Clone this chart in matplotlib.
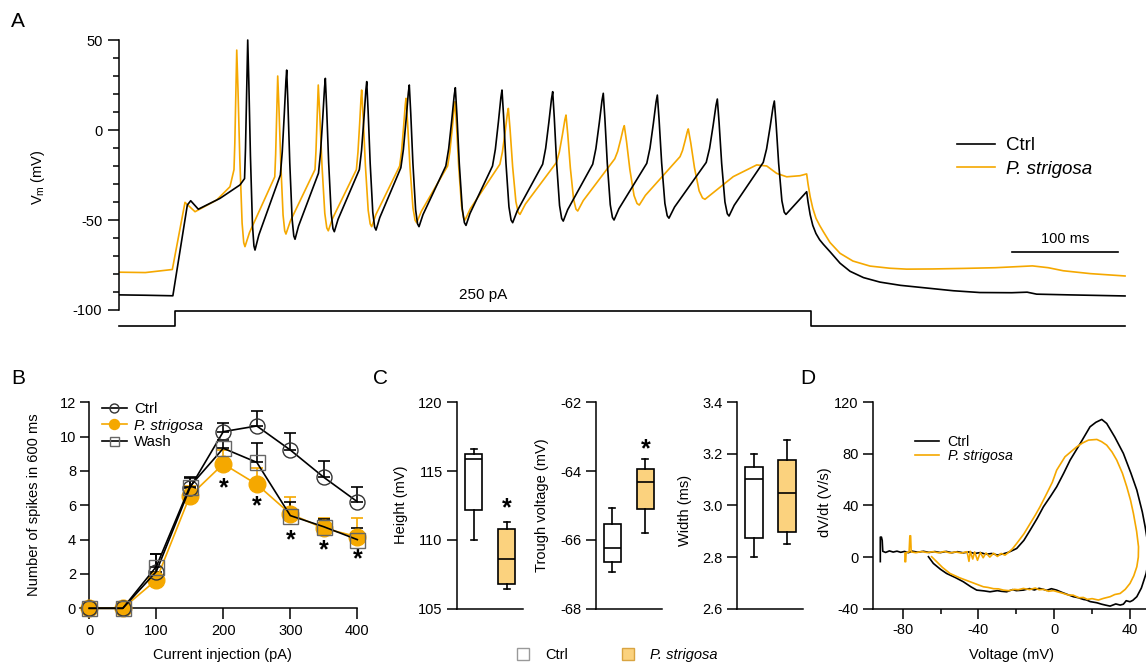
import numpy as np
import matplotlib
matplotlib.use("Agg")
import matplotlib.pyplot as plt
from matplotlib.patches import Patch

plt.rcParams["font.family"] = ["Liberation Sans", "DejaVu Sans"]
plt.rcParams["axes.unicode_minus"] = False
plt.rcParams["axes.linewidth"] = 1.1

ORANGE = "#F5A800"
BOXFILL = "#FBD27E"

# ---------------- panel A : voltage traces (ms, mV) ----------------
ctrl_onset = [(0, -91.6), (25, -91.8), (51, -92.1), (64.7, -41.7), (67.9, -39.3),
              (75.1, -44.0), (95.6, -38.0), (114.6, -30.5)]
ctrl_peak_t = [121.9, 158.8, 195.4, 234.6, 274.9, 318.5, 362.7, 410.7, 458.6, 509.8, 566.6, 620.6]
ctrl_peak_v = [50.0, 33.3, 28.7, 26.9, 25.0, 23.5, 22.2, 21.3, 20.4, 19.4, 17.2, 16.1]
ctrl_trough_t = [128.8, 166.7, 203.9, 243.4, 284.1, 328.6, 372.8, 420.7, 468.8, 520.8, 577.7, 631.6]
ctrl_trough_v = [-66.7, -60.7, -56.5, -55.6, -53.7, -53.0, -51.5, -50.6, -50.0, -49.0, -47.8, -46.9]
ctrl_thr_v = [-27, -25, -24, -22, -21, -20, -20, -19, -19, -18.5, -18, -18]
ctrl_up_ms = [3.0, 6.0, 6.5, 7.0, 8.0, 9.0, 9.0, 9.5, 10.0, 10.0, 10.5, 10.5]
ctrl_tail = [(651.2, -34.3), (652.5, -40), (654.5, -47), (657, -53), (660, -57.5), (663.5, -61),
             (667, -63.5), (673.3, -67.6), (682.8, -74), (692.3, -78.5), (705, -82),
             (720.6, -84.5), (740, -86.3), (768, -88), (790, -89.3), (815.3, -90.3),
             (845.4, -90.4), (860, -90.1), (869, -91.2), (900, -91.6), (952.7, -92.2)]

ps_onset = [(0, -79.0), (25, -79.2), (50.5, -77.5), (62.5, -40.2), (72, -45.4),
            (92.5, -38.9), (105.1, -31.5)]
ps_peak_t = [111.5, 150.3, 188.7, 229.8, 271.8, 318.2, 368.7, 423.3, 478.5, 539.1]
ps_peak_v = [44.4, 30.0, 25.0, 22.2, 17.6, 15.7, 12.0, 8.3, 2.4, 0.6]
ps_trough_t = [119.3, 158.1, 198.2, 239.3, 281.9, 327.7, 379.7, 434.4, 492.7, 554.9]
ps_trough_v = [-64.8, -57.8, -56.0, -53.7, -51.5, -50.0, -46.9, -45.0, -41.7, -38.5]
ps_thr_v = [-22, -26, -22, -22, -20, -20, -19, -18, -16, -14.8]
ps_up_ms = [2.6, 2.8, 3.1, 5.0, 6.0, 7.0, 8.0, 9.0, 9.0, 7.8]
ps_tail = [(566, -33.3), (581.7, -25.9), (594.4, -22.2), (603.9, -19.4), (613.4, -20),
           (622.8, -24.1), (632.3, -26), (644.9, -25.4), (651.2, -24.4), (652.5, -30),
           (654.5, -37), (657, -43.5), (660, -49), (663.5, -53), (667, -56.5), (673.3, -62.5),
           (682.8, -68.5), (695, -72.8), (711.2, -75.6), (730, -76.8), (745.9, -77.3),
           (770, -77.2), (799.5, -76.9), (830, -76.5), (854.8, -75.8), (865, -75.5),
           (880, -76.5), (894.2, -78.2), (920, -79.8), (952.7, -81.1)]

step_t = [0, 53, 53, 655, 655, 953]
step_pa = [0, 0, 250, 250, 0, 0]

# ---------------- panel B : spike counts ----------------
current = [0, 50, 100, 150, 200, 250, 300, 350, 400]
ctrl_n = [0, 0, 2.14, 6.99, 10.29, 10.62, 9.22, 7.63, 6.21]
ctrl_sem = [0, 0, 1.0, 0.6, 0.5, 0.9, 0.97, 0.97, 0.88]
ps_n = [0, 0, 1.65, 6.54, 8.41, 7.22, 5.5, 4.66, 4.17]
ps_sem = [0, 0, 0.3, 0.6, 0.8, 0.94, 0.97, 0.6, 1.07]
wash_n = [0, 0, 2.43, 7.09, 9.32, 8.5, 5.4, 4.75, 4.0]
wash_sem = [0, 0, 0.72, 0.55, 0.48, 1.11, 0.8, 0.45, 0.7]
star_x = [200, 250, 300, 350, 400]
star_y = [6.99, 5.92, 3.98, 3.36, 2.85]

# ---------------- panel C : box statistics (whislo, q1, med, q3, whishi) ----------------
height_ctrl = [110.0, 112.17, 115.86, 116.22, 116.6]
height_ps = [106.45, 106.82, 108.63, 110.79, 111.32]
trough_ctrl = [-66.92, -66.63, -66.23, -65.55, -65.08]
trough_ps = [-65.79, -65.11, -64.33, -63.94, -63.65]
width_ctrl = [2.80, 2.874, 3.101, 3.15, 3.20]
width_ps = [2.849, 2.899, 3.05, 3.176, 3.253]

# ---------------- panel D : phase plots (mV, V/s) ----------------
ctrl_phase = [(-91.8, -3.5), (-91.8, 15.5), (-91.2, 15.5), (-90.8, 13), (-90.5, 4.5), (-89, 3.6),
              (-87, 4.8), (-85, 3.9), (-83, 4.6), (-81, 3.7), (-79, 4.4), (-77, 3.4), (-75, 4.6),
              (-72, 3.8), (-69, 4.5), (-66, 3.6), (-63, 4.3), (-60, 3.5), (-57, 4.4), (-54, 3.4),
              (-51, 4.2), (-48, 3.3), (-45, 4.0), (-42, 2.8), (-39, 3.5), (-36, 2.2), (-33, 2.8),
              (-30, 1.6), (-27, 2.5), (-24, 3.8), (-21.5, 5.5), (-19.8, 6.7), (-16, 13),
              (-12.7, 20.9), (-9, 30), (-5.7, 39), (-2, 47), (1.3, 54.5), (5, 65), (8.4, 75.2),
              (13.7, 88), (18.9, 101), (22, 104.5), (25.1, 106.7), (27.7, 103.6), (32, 93),
              (36.5, 80.4), (40.5, 65), (43.6, 52), (46.5, 35), (48, 23.5), (50, 5), (49.5, -5),
              (48.5, -12.7), (46, -24), (43.6, -30.7), (41.5, -33.5), (40, -34.6), (38, -33.8),
              (36.5, -36.5), (34.8, -37.2), (32.5, -36.3), (29.5, -38), (27, -37.2), (25, -36.5),
              (22.5, -35.4), (19, -34.5), (17, -33.2), (15.4, -32.8), (12.5, -31.4), (10.1, -30.7),
              (7, -29), (4, -27.3), (1.3, -25.6), (-1.5, -24.5), (-4, -25.8), (-5.7, -25),
              (-8, -24.2), (-10.5, -25.5), (-13, -24.4), (-16.3, -25.6), (-20, -26), (-22, -25.2),
              (-25.1, -26.9), (-28, -26.5), (-30, -26), (-33.9, -26.9), (-37, -26.2),
              (-40.9, -25.6), (-44, -23), (-48, -19.1), (-52, -16), (-56.8, -12.7), (-60, -9.5),
              (-63.8, -4.9), (-66.4, 0.3)]
ps_phase = [(-78.8, 3.0), (-78.8, -3.6), (-78.4, -3.6), (-78.2, 3.5), (-76.6, 4.0), (-76.2, 16.5),
            (-75.8, 16.5), (-75.5, 4.0), (-73, 3.4), (-70, 4.3), (-67, 3.5), (-64, 4.2), (-61, 3.3),
            (-58, 4.4), (-55, 3.2), (-52, 4.0), (-49, 3.1), (-46, 4.2), (-45, -3.3), (-44.3, 4.5),
            (-43, -1.5), (-42, 4.0), (-40.5, -2.5), (-39, 3.6), (-37.5, -0.5), (-36, 3.2), (-34, 0),
            (-32, 3.0), (-30, 0.5), (-28, 2.8), (-26, 1.5), (-24, 3.8), (-22, 6.5), (-19.8, 10.6),
            (-16, 18), (-12.7, 26), (-10, 32.5), (-7.5, 39), (-3.9, 49.4), (-1, 58), (1.3, 67.4),
            (5.7, 77.8), (11.9, 85.5), (15, 88.5), (18.1, 90.7), (22.5, 91.2), (25, 89.5),
            (27.7, 86.8), (30.5, 81.5), (33, 75.2), (36, 65), (38.3, 54.5), (40.3, 44),
            (41.8, 33.9), (43.5, 20), (44.5, 8), (44.4, 0), (43.6, -7.5), (42, -14.5), (40, -20.4),
            (37.5, -25), (34.8, -28.2), (32, -29), (29.5, -30.7), (26, -32), (23.3, -33.3),
            (20, -32.2), (17.5, -32.8), (15.4, -31.3), (13, -31.5), (10, -29.5), (7.5, -29.4),
            (4.9, -28.2), (2, -27), (-0.5, -26), (-3, -26.5), (-5.7, -25), (-8, -25.3),
            (-10, -24), (-13, -25.2), (-16.3, -24.3), (-19, -25.3), (-21, -25), (-24, -26),
            (-26.8, -25.6), (-29.5, -24.6), (-32, -24.5), (-35, -23.5), (-37.4, -23), (-41, -21),
            (-44.4, -19.1), (-50, -16), (-55, -12.7), (-59, -8), (-62, -3.6), (-64.7, 0.3)]


def build_trace(onset, tp, vp, tt, vt, thr, up, tail):
    # join the read-off spike landmarks (threshold, peak, trough) into one polyline
    pts = list(onset)
    for i in range(len(tp)):
        r = vp[i] - thr[i]
        pts.append((tp[i] - up[i], thr[i]))
        pts.append((tp[i] - 0.7 * up[i], thr[i] + 0.22 * r))
        pts.append((tp[i] - 0.38 * up[i], thr[i] + 0.58 * r))
        pts.append((tp[i] - 0.12 * up[i], thr[i] + 0.9 * r))
        pts.append((tp[i], vp[i]))
        fall = tt[i] - tp[i]
        d = vp[i] - vt[i]
        pts.append((tp[i] + 0.15 * fall, vp[i] - 0.2 * d))
        pts.append((tp[i] + 0.37 * fall, vp[i] - 0.55 * d))
        pts.append((tp[i] + 0.65 * fall, vp[i] - 0.88 * d))
        pts.append((tp[i] + 0.85 * fall, vt[i] + 0.02 * d))
        pts.append((tt[i], vt[i]))
        if i + 1 < len(tp):
            nxt = tp[i + 1] - up[i + 1]
            pts.append((tt[i] + 0.15 * (nxt - tt[i]), vt[i] + 0.2 * (thr[i + 1] - vt[i])))
    pts += tail
    t, v = zip(*pts)
    return np.array(t), np.array(v)


fig = plt.figure(figsize=(11.46, 6.67), dpi=100)

# ---- A ----
axA = fig.add_axes([0.10384, 0.50285, 0.88220, 0.45067])
t1, v1 = build_trace(ctrl_onset, ctrl_peak_t, ctrl_peak_v, ctrl_trough_t, ctrl_trough_v,
                     ctrl_thr_v, ctrl_up_ms, ctrl_tail)
t2, v2 = build_trace(ps_onset, ps_peak_t, ps_peak_v, ps_trough_t, ps_trough_v,
                     ps_thr_v, ps_up_ms, ps_tail)
axA.plot(t1, v1, color="black", lw=1.2, label="Ctrl", zorder=3)
axA.plot(t2, v2, color=ORANGE, lw=1.2, label="P. strigosa", zorder=2)
step_y = -108.9 + np.array(step_pa) * (8.1 / 250)
axA.plot(step_t, step_y, color="black", lw=1.2, clip_on=False)
axA.text(344.7, -94, "250 pA", ha="center", va="baseline", fontsize=11)
axA.plot([846, 946], [-67.9, -67.9], color="black", lw=1.2)
axA.text(896, -62.6, "100 ms", ha="center", va="baseline", fontsize=10.5)
axA.set_xlim(0, 957.4)
axA.set_ylim(-112, 55)
for s in ["top", "right", "bottom"]:
    axA.spines[s].set_visible(False)
axA.spines["left"].set_bounds(-100, 50)
axA.set_xticks([])
axA.set_yticks([-100, -50, 0, 50])
axA.set_yticks(np.arange(-90, 50, 10), minor=True)
axA.tick_params(axis="y", which="major", length=8, width=1.1, labelsize=10.5, pad=4)
axA.tick_params(axis="y", which="minor", length=4.5, width=1.1)
axA.set_ylabel(r"$\mathregular{V_m}$ (mV)", fontsize=10.5, va="center")
axA.yaxis.set_label_coords(-0.0801, 0.5143)
legA = axA.legend(loc="center left", bbox_to_anchor=(957 / 1146, 1 - 157.5 / 667),
                  bbox_transform=fig.transFigure, frameon=False, fontsize=13.5,
                  handlelength=2.0, handletextpad=0.6, labelspacing=0.33,
                  borderpad=0, borderaxespad=0)
legA.get_texts()[1].set_fontstyle("italic")

# ---- B ----
axB = fig.add_axes([0.06974, 0.06226, 0.25373, 0.34751])
axB.errorbar(current, ps_n, yerr=[np.zeros(len(ps_sem)), ps_sem], fmt="none",
             ecolor=ORANGE, elinewidth=1.2, capsize=4.3, capthick=1.2, zorder=2)
axB.errorbar(current, wash_n, yerr=[np.zeros(len(wash_sem)), wash_sem], fmt="none",
             ecolor="black", elinewidth=1.2, capsize=4.3, capthick=1.2, zorder=3)
axB.errorbar(current, ctrl_n, yerr=[np.zeros(len(ctrl_sem)), ctrl_sem], fmt="none",
             ecolor="black", elinewidth=1.2, capsize=4.3, capthick=1.2, zorder=3)
lc, = axB.plot(current, ctrl_n, "-o", color="black", lw=1.2, ms=10.8, mfc="none",
               mec="#333333", mew=1.0, label="Ctrl", zorder=5, clip_on=False)
lp, = axB.plot(current, ps_n, "-o", color=ORANGE, lw=1.2, ms=12, mfc=ORANGE, mec=ORANGE,
               label="P. strigosa", zorder=4, clip_on=False)
lw_, = axB.plot(current, wash_n, "-s", color="black", lw=1.2, ms=10.8, mfc="none",
                mec="#666666", mew=1.0, label="Wash", zorder=5, clip_on=False)
for x, y in zip(star_x, star_y):
    axB.text(x, y, "*", ha="center", va="center", fontsize=18, fontweight="bold")
axB.set_xlim(-14, 420)
axB.set_ylim(-1, 12.5)
axB.spines["top"].set_visible(False)
axB.spines["right"].set_visible(False)
axB.spines["left"].set_position(("data", 0))
axB.spines["bottom"].set_position(("data", 0))
axB.spines["left"].set_bounds(0, 12)
axB.spines["bottom"].set_bounds(-14, 400)
axB.set_xticks([0, 100, 200, 300, 400])
axB.set_yticks([0, 2, 4, 6, 8, 10, 12])
axB.tick_params(axis="y", length=6.5, width=1.1, labelsize=10.5, pad=3)
axB.tick_params(axis="x", length=8, width=1.1, labelsize=10.5, pad=3)
axB.set_ylabel("Number of spikes in 600 ms", fontsize=10.5, va="center")
axB.yaxis.set_label_coords(-0.1579, 0.5198)
axB.set_xlabel("Current injection (pA)", fontsize=10.5, va="center")
axB.xaxis.set_label_coords(0.491, -0.1273)
legB = axB.legend(handles=[lc, lp, lw_], loc="center left",
                  bbox_to_anchor=(101.7 / 1146, 1 - 425.7 / 667), bbox_transform=fig.transFigure,
                  frameon=False, fontsize=10.8, markerscale=0.6, handlelength=1.7,
                  handletextpad=0.45, labelspacing=0.17, borderpad=0, borderaxespad=0)
legB.get_texts()[1].set_fontstyle("italic")

# ---- C ----
c_specs = [
    ([0.39904, 0.08741, 0.05759, 0.30945], height_ctrl, height_ps, (105, 120), [105, 110, 115, 120],
     "Height (mV)", (-0.8606, 0.5024), 112.3, "{:.0f}"),
    ([0.52007, 0.08741, 0.05733, 0.30945], trough_ctrl, trough_ps, (-68, -62), [-68, -66, -64, -62],
     "Trough voltage (mV)", (-0.822, 0.5024), -63.37, "{:.0f}"),
    ([0.64354, 0.08741, 0.05759, 0.30945], width_ctrl, width_ps, (2.6, 3.4), [2.6, 2.8, 3.0, 3.2, 3.4],
     "Width (ms)", (-0.795, 0.478), None, "{:.1f}"),
]
for rect, sc, sp, ylim, yt, ylab, lab_xy, star, fmt in c_specs:
    ax = fig.add_axes(rect)
    stats = []
    for s in (sc, sp):
        stats.append({"whislo": s[0], "q1": s[1], "med": s[2], "q3": s[3], "whishi": s[4],
                      "fliers": []})
    bp = ax.bxp(stats, positions=[0.5, 1.5], widths=0.52, capwidths=0.18, patch_artist=True,
                showfliers=False,
                boxprops=dict(linewidth=1.2, edgecolor="black"),
                medianprops=dict(color="black", linewidth=1.2),
                whiskerprops=dict(linewidth=1.2, color="black"),
                capprops=dict(linewidth=1.2, color="black"))
    bp["boxes"][0].set_facecolor("white")
    bp["boxes"][1].set_facecolor(BOXFILL)
    if star is not None:
        ax.text(1.5, star, "*", ha="center", va="center", fontsize=18, fontweight="bold")
    ax.set_xlim(0, 2)
    ax.set_ylim(*ylim)
    ax.spines["top"].set_visible(False)
    ax.spines["right"].set_visible(False)
    ax.set_xticks([])
    ax.set_yticks(yt)
    ax.set_yticklabels([fmt.format(v) for v in yt])
    ax.tick_params(axis="y", length=7.5, width=1.1, labelsize=10.5, pad=3)
    ax.set_ylabel(ylab, fontsize=10.5, va="center")
    ax.yaxis.set_label_coords(*lab_xy)

fig.legend(handles=[Patch(facecolor="white", edgecolor="#999999", lw=1.0, label="Ctrl"),
                    Patch(facecolor=BOXFILL, edgecolor="#D9A441", lw=1.0, label="P. strigosa")],
           loc="center left", bbox_to_anchor=(517 / 1146, 1 - 655 / 667), ncol=2, frameon=False,
           fontsize=10.5, handlelength=0.82, handleheight=0.82, handletextpad=1.1,
           columnspacing=3.7, borderpad=0, borderaxespad=0)
fig.legends[-1].get_texts()[1].set_fontstyle("italic")

# ---- D ----
axD = fig.add_axes([0.76204, 0.08741, 0.23796, 0.30945])
cv, cd = zip(*ctrl_phase)
pv, pd_ = zip(*ps_phase)
axD.plot(cv, cd, color="black", lw=1.2, label="Ctrl", zorder=2)
axD.plot(pv, pd_, color=ORANGE, lw=1.2, label="P. strigosa", zorder=3)
axD.set_xlim(-95.5, 48.45)
axD.set_ylim(-40, 120)
axD.spines["top"].set_visible(False)
axD.spines["right"].set_visible(False)
axD.set_xticks([-80, -40, 0, 40])
axD.set_xticks([-60, -20, 20], minor=True)
axD.set_yticks([-40, 0, 40, 80, 120])
axD.tick_params(axis="x", which="major", length=7.5, width=1.1, labelsize=10.5, pad=3)
axD.tick_params(axis="x", which="minor", length=3.8, width=1.1)
axD.tick_params(axis="y", length=7.5, width=1.1, labelsize=10.5, pad=3)
axD.set_ylabel("dV/dt (V/s)", fontsize=10.5, va="center")
axD.yaxis.set_label_coords(-0.1753, 0.518)
axD.set_xlabel("Voltage (mV)", fontsize=10.5, va="center")
axD.xaxis.set_label_coords(0.5075, -0.2243)
legD = axD.legend(loc="center left", bbox_to_anchor=(915 / 1146, 1 - 448.9 / 667),
                  bbox_transform=fig.transFigure, frameon=False, fontsize=10.2,
                  handlelength=1.7, handletextpad=0.6, labelspacing=0.02,
                  borderpad=0, borderaxespad=0)
legD.get_texts()[1].set_fontstyle("italic")

# panel letters
for letter, x, y in [("A", 18, 26.7), ("B", 18.3, 384), ("C", 380, 384), ("D", 808.3, 383.5)]:
    fig.text(x / 1146, 1 - y / 667, letter, ha="center", va="baseline", fontsize=15)

fig.savefig("out.png", dpi=100)
